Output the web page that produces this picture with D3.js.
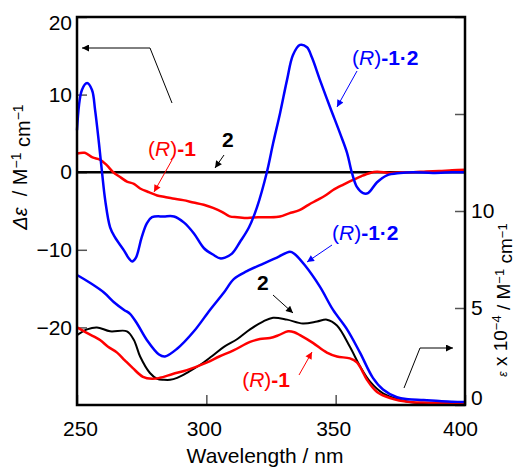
<!DOCTYPE html>
<html>
<head>
<meta charset="utf-8">
<script src="https://cdn.jsdelivr.net/npm/d3@7"></script>
<style>
  body { margin: 0; background: #fff; }
  svg text { font-family: "Liberation Sans", Arial, Helvetica, sans-serif; }
</style>
</head>
<body>
<svg id="chart" width="517" height="469"></svg>
<script>
// CD spectra (left axis, delta epsilon)
var cd12Wl = [250, 251.9, 253.9, 255.8, 257, 258.5, 259.7, 260.9, 262.8, 264.7, 268.2, 270, 271.3, 272.8, 275, 277, 279, 283.6, 287.5, 291.4, 295.2, 299.1, 303, 305.3, 307.2, 309.9, 313, 316.5, 319.6, 323.4, 325.8, 328.5, 331.2, 333.5, 336.2, 338.9, 340.8, 343.9, 347.8, 351.7, 354.4, 356.3, 358.2, 360.6, 362.5, 366, 369.8, 374.9, 380, 387.6, 395.3, 400];
var cd12Val = [5.4, 10.6, 11.5, 10.6, 8.0, 3.7, -0.1, -3.6, -7.1, -8.4, -10.1, -11.1, -11.5, -11.0, -8.4, -6.6, -5.8, -5.7, -5.7, -6.5, -7.9, -9.8, -10.7, -11.1, -11.0, -10.5, -9.0, -7.1, -4.5, 0, 3.7, 7.6, 11.9, 15.1, 16.4, 16.1, 14.8, 11.9, 8.4, 5.0, 2.5, -0.1, -1.9, -2.7, -2.7, -1.3, -0.4, -0.1, 0, -0.1, 0, 0];

var cd1Wl = [250, 253, 256, 259, 261.5, 264, 267, 269.3, 272, 274.4, 278, 281, 284, 287, 291, 295, 299, 302.6, 306, 309, 312, 316, 320, 324, 328.5, 332, 336, 339.5, 342.8, 346, 349, 353, 356.7, 360, 363.3, 366, 371, 376, 380, 385, 390, 395, 400];
var cd1Val = [2.4, 2.5, 1.9, 1.6, 0.9, 0.0, -0.7, -1.2, -1.5, -2.1, -2.6, -3.0, -3.2, -3.4, -3.6, -3.9, -4.2, -4.6, -5.1, -5.7, -5.8, -5.9, -5.8, -5.8, -5.7, -5.3, -4.9, -4.2, -3.6, -3.0, -2.3, -1.6, -1.0, -0.5, -0.1, 0.05, -0.1, 0.0, 0.0, 0.1, 0.15, 0.25, 0.3];

var cd2Wl = [250, 400];
var cd2Val = [0, 0];

// absorption spectra (right axis, epsilon x 10^-4)
var abs12Wl = [250, 255, 260.4, 264.3, 268.2, 270.5, 273.2, 277, 281.7, 284, 288.7, 295.2, 301.4, 306.8, 310.7, 315.7, 322.3, 327.3, 332.3, 334, 338.1, 343.9, 349, 354.4, 359.4, 364.4, 368.3, 373.7, 378, 384, 390, 395, 400];
var abs12Val = [6.7, 6.3, 5.8, 5.3, 4.9, 4.7, 4.2, 3.35, 2.6, 2.5, 2.9, 3.8, 4.9, 5.8, 6.5, 6.9, 7.3, 7.6, 7.9, 7.8, 7.2, 6.1, 4.9, 3.9, 2.7, 1.4, 0.8, 0.4, 0.3, 0.26, 0.2, 0.17, 0.15];

var abs2Wl = [250, 253.9, 257.7, 262.8, 269.3, 272, 274.4, 278.2, 281, 283.6, 286, 288.7, 293, 297.5, 302, 306.8, 312, 316.9, 321.9, 325.8, 331.2, 337.3, 342.8, 346.6, 350.5, 355.5, 359.4, 363.3, 368.3, 374.9, 381.4, 390, 400];
var abs2Val = [3.6, 3.9, 4.0, 3.8, 3.8, 3.35, 2.5, 1.65, 1.35, 1.3, 1.3, 1.4, 1.7, 2.06, 2.5, 3.0, 3.4, 3.9, 4.3, 4.5, 4.4, 4.2, 4.3, 4.4, 4.1, 3.0, 2.0, 1.2, 0.6, 0.26, 0.1, 0.05, 0.05];

var abs1Wl = [250, 254, 258.9, 262, 265.5, 268.5, 271.6, 275.5, 279, 282, 287, 292.5, 300.3, 305, 310.3, 316.9, 320.7, 324.6, 328, 331.6, 334, 336.2, 341.2, 346.6, 350.5, 355.5, 358.2, 360.5, 362.1, 366, 371, 378.7, 386, 394, 400];
var abs1Val = [4.0, 3.7, 3.35, 3.0, 2.7, 2.3, 1.9, 1.45, 1.35, 1.4, 1.6, 1.8, 2.2, 2.5, 2.8, 3.25, 3.4, 3.45, 3.6, 3.8, 3.75, 3.6, 3.2, 2.7, 2.5, 2.4, 2.2, 1.7, 1.3, 0.67, 0.36, 0.15, 0.12, 0.1, 0.1];

var xTicks = [250, 300, 350, 400];
var leftTicks = [-20, -10, 0, 10, 20];
var rightTicks = [0, 5, 10, 15, 20];
var rightLabels = [0, 5, 10];

var blue = "#0000ff", red = "#ff0000";

var svg = d3.select("#chart");
var L = 77, T = 17, R = 465, B = 405;

var x = d3.scaleLinear().domain([250, 400]).range([L, R]);
var yL = d3.scaleLinear().domain([-30, 20]).range([B, T]);
var yR = d3.scaleLinear().domain([0, 20]).range([B, T]);

function pts(wl, val) { return wl.map(function(w, i) { return [w, val[i]]; }); }

// axes, ticks pointing inward
var gx = svg.append("g").attr("transform", "translate(0," + B + ")")
  .call(d3.axisBottom(x).tickValues(xTicks).tickSize(-10).tickPadding(16).tickFormat(d3.format("d")));
gx.selectAll(".tick text").attr("dx", function(d) { return d == 250 ? 3 : d == 400 ? -5 : -2.5; });

var gl = svg.append("g").attr("transform", "translate(" + L + ",0)")
  .call(d3.axisLeft(yL).tickValues(leftTicks).tickSize(-10).tickPadding(5));
gl.selectAll(".tick text").attr("y", function(d) { return d == 20 ? 6 : 0; });

var gr = svg.append("g").attr("transform", "translate(" + R + ",0)")
  .call(d3.axisRight(yR).tickValues(rightTicks).tickSize(-10).tickPadding(6)
    .tickFormat(function(d) { return rightLabels.indexOf(d) >= 0 ? d : ""; }));
gr.selectAll(".tick text").attr("y", function(d) { return d == 0 ? -7 : 0; });

[gx, gl, gr].forEach(function(g) {
  g.select(".domain").remove();
  g.selectAll(".tick line").attr("stroke", "#555").attr("stroke-width", 1.5);
  g.selectAll(".tick text").attr("fill", "#000").style("font-size", "21px")
    .style("font-family", "'Liberation Sans', Arial, sans-serif");
});

// curves
var lineL = d3.line().x(function(d) { return x(d[0]); }).y(function(d) { return yL(d[1]); }).curve(d3.curveCatmullRom);
var lineR = d3.line().x(function(d) { return x(d[0]); }).y(function(d) { return yR(d[1]); }).curve(d3.curveCatmullRom);

var plot = svg.append("g");
plot.append("path").attr("d", lineL(pts(cd2Wl, cd2Val))).attr("fill", "none").attr("stroke", "#000").attr("stroke-width", 2.5);
plot.append("path").attr("d", lineL(pts(cd1Wl, cd1Val))).attr("fill", "none").attr("stroke", red).attr("stroke-width", 2.5);
plot.append("path").attr("d", lineL(pts(cd12Wl, cd12Val))).attr("fill", "none").attr("stroke", blue).attr("stroke-width", 2.5);
plot.append("path").attr("d", lineR(pts(abs2Wl, abs2Val))).attr("fill", "none").attr("stroke", "#000").attr("stroke-width", 2);
plot.append("path").attr("d", lineR(pts(abs1Wl, abs1Val))).attr("fill", "none").attr("stroke", red).attr("stroke-width", 2.5);
plot.append("path").attr("d", lineR(pts(abs12Wl, abs12Val))).attr("fill", "none").attr("stroke", blue).attr("stroke-width", 2.5);

// frame
svg.append("rect").attr("x", L).attr("y", T).attr("width", R - L).attr("height", B - T)
  .attr("fill", "none").attr("stroke", "#000").attr("stroke-width", 2.5);

// arrow markers
var defs = svg.append("defs");
[["k", "#000"], ["b", blue], ["r", red]].forEach(function(m) {
  defs.append("marker").attr("id", "ah-" + m[0]).attr("viewBox", "0 0 10 10")
    .attr("refX", 10).attr("refY", 5).attr("markerWidth", 9).attr("markerHeight", 7)
    .attr("markerUnits", "userSpaceOnUse").attr("orient", "auto")
    .append("path").attr("d", "M0,0 L10,5 L0,10 Z").attr("fill", m[1]);
});

function arrow(p, key, col) {
  svg.append("path").attr("d", d3.line()(p)).attr("fill", "none").attr("stroke", col)
    .attr("stroke-width", 1).attr("marker-end", "url(#ah-" + key + ")");
}

function label(xp, yp, parts, col, anchor) {
  var t = svg.append("text").attr("x", xp).attr("y", yp).attr("fill", col)
    .attr("text-anchor", anchor || "start").style("font-size", "21px");
  t.append("tspan").text("(");
  t.append("tspan").style("font-style", "italic").text("R");
  t.append("tspan").text(")");
  t.append("tspan").style("font-weight", "bold").text(parts);
}

label(352, 65, "-1\u00b72", blue);
arrow([[357, 71], [337, 107]], "b", blue);
label(332, 240, "-1\u00b72", blue);
arrow([[332, 245], [307, 262]], "b", blue);
label(148, 156, "-1", red);
arrow([[172, 160], [154, 192]], "r", red);
label(290, 387, "-1", red, "end");
arrow([[299, 375], [312, 352]], "r", red);

svg.append("text").attr("x", 222).attr("y", 147).style("font-size", "21px").style("font-weight", "bold").text("2");
arrow([[224, 155], [215, 168]], "k", "#000");
svg.append("text").attr("x", 257).attr("y", 290).style("font-size", "21px").style("font-weight", "bold").text("2");
arrow([[273, 295], [293, 313]], "k", "#000");

arrow([[172, 103], [150, 48], [82, 48]], "k", "#000");
arrow([[404, 388], [420, 348], [453, 348]], "k", "#000");

// axis titles
svg.append("text").attr("x", 265).attr("y", 463).attr("text-anchor", "middle")
  .style("font-size", "21px").text("Wavelength / nm");

var ltl = svg.append("text").attr("transform", "translate(27,167) rotate(-90)")
  .attr("text-anchor", "middle").style("font-size", "20px");
ltl.append("tspan").style("font-style", "italic").text("\u0394\u03b5");
ltl.append("tspan").text("\u00a0 / M");
ltl.append("tspan").attr("dy", "-0.45em").style("font-size", "14px").text("\u22121");
ltl.append("tspan").attr("dy", "0.45em").text(" cm");
ltl.append("tspan").attr("dy", "-0.45em").style("font-size", "14px").text("\u22121");

var rtl = svg.append("text").attr("transform", "translate(507,300) rotate(-90)")
  .attr("text-anchor", "middle").style("font-size", "19px");
rtl.append("tspan").style("font-style", "italic").style("font-size", "12px").text("\u03b5");
rtl.append("tspan").text(" x 10");
rtl.append("tspan").attr("dy", "-0.45em").style("font-size", "13px").text("\u22124");
rtl.append("tspan").attr("dy", "0.45em").text(" / M");
rtl.append("tspan").attr("dy", "-0.45em").style("font-size", "13px").text("\u22121");
rtl.append("tspan").attr("dy", "0.45em").text(" cm");
rtl.append("tspan").attr("dy", "-0.45em").style("font-size", "13px").text("\u22121");
</script>
</body>
</html>
